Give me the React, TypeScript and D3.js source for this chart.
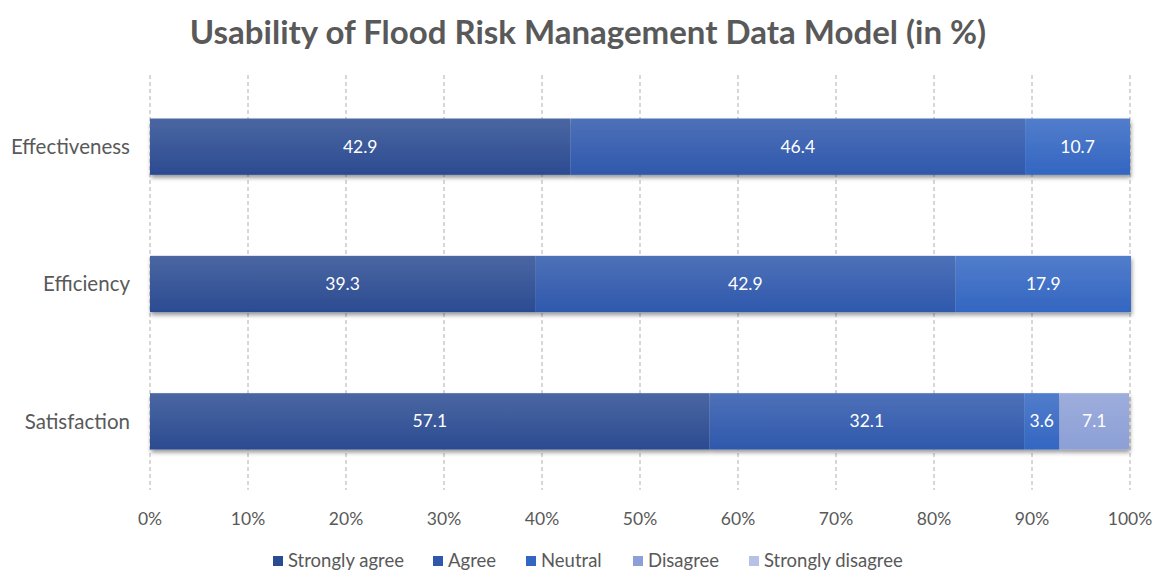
import React, { useEffect, useRef } from 'react';
import * as d3 from 'd3';

const categories = ['Effectiveness', 'Efficiency', 'Satisfaction'];
const seriesNames = ['Strongly agree', 'Agree', 'Neutral', 'Disagree', 'Strongly disagree'];
const stronglyAgree = [42.9, 39.3, 57.1];
const agree = [46.4, 42.9, 32.1];
const neutral = [10.7, 17.9, 3.6];
const disagree = [0, 0, 7.1];
const stronglyDisagree = [0, 0, 0];
const xTicks = [0, 10, 20, 30, 40, 50, 60, 70, 80, 90, 100];
const colors = ['#2b4b91', '#2f58ac', '#3366c2', '#8c9fd6', '#b6c1e6'];

const FONT = 'Lato, "Open Sans", sans-serif';

export default function App() {
  const ref = useRef<SVGSVGElement>(null);

  useEffect(() => {
    const width = 1157;
    const height = 572;
    const marginLeft = 150;
    const marginRight = 27;
    const marginTop = 78;
    const marginBottom = 82;

    const svg = d3.select(ref.current)
      .attr('width', width)
      .attr('height', height);
    svg.selectAll('*').remove();

    const defs = svg.append('defs');
    const shadow = defs.append('filter').attr('id', 'shadow')
      .attr('x', '-5%').attr('y', '-20%').attr('width', '110%').attr('height', '150%');
    shadow.append('feDropShadow')
      .attr('dx', 1).attr('dy', 3).attr('stdDeviation', 2)
      .attr('flood-color', '#000').attr('flood-opacity', 0.4);

    colors.forEach((c, i) => {
      const g = defs.append('linearGradient').attr('id', `grad${i}`)
        .attr('x1', 0).attr('y1', 0).attr('x2', 0).attr('y2', 1);
      g.append('stop').attr('offset', '0%').attr('stop-color', d3.interpolateRgb(c, '#ffffff')(0.15));
      g.append('stop').attr('offset', '100%').attr('stop-color', c);
    });

    const x = d3.scaleLinear().domain([0, 100]).range([marginLeft, width - marginRight]);
    const y = d3.scaleBand().domain(categories)
      .range([marginTop, height - marginBottom]).paddingInner(0.59).paddingOuter(0.295);

    // grid
    svg.append('g')
      .selectAll('line')
      .data(xTicks)
      .join('line')
      .attr('x1', d => x(d)).attr('x2', d => x(d))
      .attr('y1', marginTop - 3).attr('y2', height - marginBottom)
      .attr('stroke', '#b0b0b0')
      .attr('stroke-width', 1)
      .attr('stroke-dasharray', '4,3');

    // title
    svg.append('text')
      .attr('x', 588).attr('y', 44)
      .attr('text-anchor', 'middle')
      .attr('font-family', FONT)
      .attr('font-weight', 'bold')
      .attr('font-size', 33)
      .attr('fill', '#595959')
      .text('Usability of Flood Risk Management Data Model (in %)');

    const rows = categories.map((c, i) => ({
      category: c,
      'Strongly agree': stronglyAgree[i],
      'Agree': agree[i],
      'Neutral': neutral[i],
      'Disagree': disagree[i],
      'Strongly disagree': stronglyDisagree[i],
    }));
    const stack = d3.stack<any>().keys(seriesNames)(rows);

    const barsG = svg.append('g').attr('filter', 'url(#shadow)');
    stack.forEach((layer, si) => {
      barsG.append('g')
        .selectAll('rect')
        .data(layer.filter(d => d[1] - d[0] > 0))
        .join('rect')
        .attr('x', d => x(d[0]))
        .attr('width', d => x(d[1]) - x(d[0]))
        .attr('y', d => y(d.data.category)!)
        .attr('height', y.bandwidth())
        .attr('fill', `url(#grad${si})`);
    });

    stack.forEach(layer => {
      svg.append('g')
        .selectAll('text')
        .data(layer.filter(d => d[1] - d[0] > 0))
        .join('text')
        .attr('x', d => (x(d[0]) + x(d[1])) / 2)
        .attr('y', d => y(d.data.category)! + y.bandwidth() / 2)
        .attr('dy', '0.35em')
        .attr('text-anchor', 'middle')
        .attr('font-family', FONT)
        .attr('font-size', 17.5)
        .attr('fill', '#ffffff')
        .text(d => d3.format('.1f')(d[1] - d[0]));
    });

    // category labels
    svg.append('g')
      .selectAll('text')
      .data(categories)
      .join('text')
      .attr('x', 130)
      .attr('y', d => y(d)! + y.bandwidth() / 2)
      .attr('dy', '0.35em')
      .attr('text-anchor', 'end')
      .attr('font-family', FONT)
      .attr('font-size', 20.5)
      .attr('fill', '#595959')
      .text(d => d);

    // x tick labels
    svg.append('g')
      .selectAll('text')
      .data(xTicks)
      .join('text')
      .attr('x', d => x(d))
      .attr('y', 525)
      .attr('text-anchor', 'middle')
      .attr('font-family', FONT)
      .attr('font-size', 17.5)
      .attr('fill', '#595959')
      .text(d => `${d}%`);

    // legend
    const legendX = [273, 433, 526, 633, 749];
    const legend = svg.append('g')
      .selectAll('g')
      .data(seriesNames)
      .join('g')
      .attr('transform', (d, i) => `translate(${legendX[i]},561)`);
    legend.append('rect')
      .attr('x', 0).attr('y', -5).attr('width', 10).attr('height', 10)
      .attr('fill', (d, i) => colors[i]);
    legend.append('text')
      .attr('x', 15).attr('dy', '0.35em')
      .attr('font-family', FONT)
      .attr('font-size', 18.5)
      .attr('fill', '#595959')
      .text(d => d);
  }, []);

  return <svg ref={ref} style={{ position: 'absolute', left: 0, top: 0 }}></svg>;
}
